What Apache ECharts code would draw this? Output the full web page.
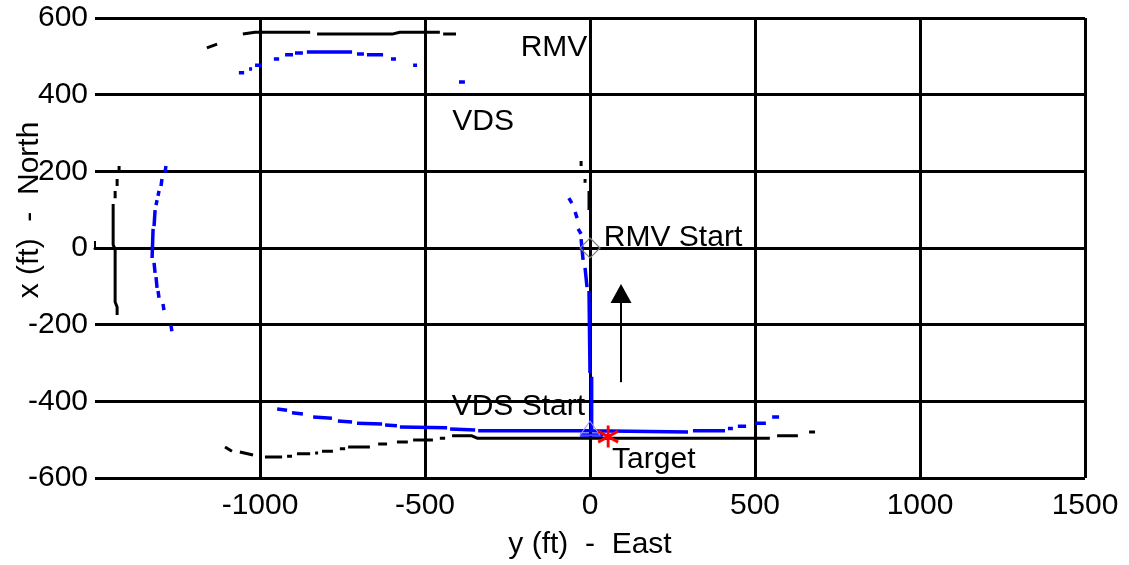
<!DOCTYPE html>
<html>
<head>
<meta charset="utf-8">
<script src="https://cdn.jsdelivr.net/npm/echarts@6/dist/echarts.min.js"></script>
<style>html,body{margin:0;padding:0;background:#fff;}#chart{width:1129px;height:565px;}</style>
</head>
<body>
<div id="chart"></div>
<script>
// ---- Data (feet): [y East, x North] pairs, each inner array is one visible trace piece ----
const xTicks = [-1500, -1000, -500, 0, 500, 1000, 1500];
const yTicks = [-600, -400, -200, 0, 200, 400, 600];

// RMV trajectory (black)
const rmvNorth = [
  [[-27, 227], [-27, 214]],
  [[-15, 180], [-15, 170]],
  [[-3, 149], [-3, 99]]
];
const rmvTop = [
  [[-1161, 522], [-1130, 532]],
  [[-1052, 558], [-1015, 563], [-848, 563]],
  [[-827, 558], [-600, 558], [-576, 563], [-455, 563]],
  [[-445, 558], [-406, 558]]
];
const rmvLeft = [
  [[-1427, 214], [-1427, 201]],
  [[-1433, 180], [-1433, 162]],
  [[-1439, 149], [-1439, 130]],
  [[-1445, 115], [-1445, 8], [-1439, -3], [-1439, -141], [-1433, -154], [-1433, -175]]
];
const rmvBottom = [
  [[-1106, -519], [-1085, -530]],
  [[-1061, -532], [-1021, -540]],
  [[-985, -545], [-933, -545]],
  [[-918, -543], [-903, -543]],
  [[-888, -537], [-848, -537]],
  [[-833, -535], [-824, -535]],
  [[-812, -530], [-779, -530]],
  [[-758, -524], [-742, -524]],
  [[-733, -519], [-667, -519]],
  [[-642, -511], [-615, -511]],
  [[-585, -506], [-552, -506]],
  [[-536, -501], [-476, -501]],
  [[-455, -496], [-439, -496]],
  [[-418, -490], [-358, -490], [-342, -496], [545, -496]],
  [[567, -490], [630, -490]],
  [[664, -480], [682, -480]]
];

// VDS trajectory (blue)
const vdsNorth = [
  [[-64, 130], [-55, 117]],
  [[-45, 94], [-39, 78]],
  [[-36, 50], [-27, 37]],
  [[-27, 23], [-21, -31]],
  [[-15, -52], [-9, -102]],
  [[-3, -112], [0, -326]],
  [[5, -336], [5, -477]]
];
const vdsTop = [
  [[-1064, 457], [-1048, 457]],
  [[-1033, 467], [-1024, 467]],
  [[-1015, 477], [-994, 477]],
  [[-958, 493], [-942, 493]],
  [[-924, 504], [-900, 504]],
  [[-894, 509], [-870, 509]],
  [[-858, 511], [-721, 511]],
  [[-706, 506], [-685, 506]],
  [[-676, 504], [-627, 504]],
  [[-603, 493], [-588, 493]],
  [[-536, 477], [-524, 477]],
  [[-397, 433], [-379, 433]]
];
const vdsLeft = [
  [[-1285, 214], [-1288, 196]],
  [[-1297, 180], [-1300, 162]],
  [[-1306, 149], [-1309, 136]],
  [[-1312, 125], [-1315, 112]],
  [[-1318, 99], [-1321, 57]],
  [[-1324, 50], [-1327, -26]],
  [[-1321, -39], [-1318, -65]],
  [[-1315, -76], [-1312, -104]],
  [[-1309, -112], [-1306, -130]],
  [[-1294, -146], [-1291, -162]],
  [[-1270, -201], [-1267, -217]]
];
const vdsBottom = [
  [[-948, -420], [-918, -423]],
  [[-903, -430], [-870, -433]],
  [[-839, -441], [-782, -444]],
  [[-764, -451], [-721, -454]],
  [[-706, -457], [-630, -459]],
  [[-621, -462], [-585, -464]],
  [[-576, -467], [-433, -469]],
  [[-424, -472], [-348, -475]],
  [[-339, -477], [0, -477], [297, -480]],
  [[312, -477], [409, -477]],
  [[418, -471], [433, -471]],
  [[448, -465], [473, -465]],
  [[500, -457], [533, -457]],
  [[552, -441], [573, -441]],
  [[-30, -488], [40, -488]]
];

// Markers
const rmvStart = [0, 0];
const vdsStart = [0, -470];
const target = [55, -492];
const arrowX = [94, 94];
const arrowY = [-350, -119];

// Annotations
const noteText = ['RMV', 'VDS', 'RMV Start', 'VDS Start', 'Target'];
const noteX = [-109, -324, 42, -15, 67];
const noteY = [522, 329, 26, -415, -553];
const notePos = ['inside', 'inside', 'right', 'left', 'right'];

// ---- Build ----
function joinPieces(groups) {
  const out = [];
  groups.forEach(function (g) {
    g.forEach(function (piece) {
      if (out.length) out.push(['-', '-']);
      piece.forEach(function (p) { out.push(p); });
    });
  });
  return out;
}

const FONT = 'Liberation Sans, Arial, sans-serif';
const chart = echarts.init(document.getElementById('chart'));

const option = {
  animation: false,
  backgroundColor: '#ffffff',
  grid: { left: 95, right: 44, top: 18, bottom: 87, containLabel: false, outerBoundsMode: 'none' },
  xAxis: {
    type: 'value',
    min: xTicks[0], max: xTicks[xTicks.length - 1], interval: 500,
    name: 'y (ft)  -  East',
    nameLocation: 'middle',
    nameGap: 52,
    nameMoveOverlap: false,
    nameTextStyle: { color: '#000', fontFamily: FONT, fontSize: 30 },
    axisLine: { show: true, lineStyle: { color: '#000', width: 3 } },
    axisTick: { show: true, inside: true, length: 7, lineStyle: { color: '#000', width: 2 } },
    axisLabel: {
      color: '#000', fontFamily: FONT, fontSize: 30, margin: 13,
      formatter: function (v) { return v === xTicks[0] ? '' : String(v); }
    },
    splitLine: { show: true, showMinLine: false, lineStyle: { color: '#000', width: 3 } }
  },
  yAxis: {
    type: 'value',
    min: yTicks[0], max: yTicks[yTicks.length - 1], interval: 200,
    name: 'x (ft)  -  North',
    nameLocation: 'middle',
    nameGap: 50,
    nameMoveOverlap: false,
    nameTextStyle: { color: '#000', fontFamily: FONT, fontSize: 30, padding: [0, 0, 0, 76] },
    axisLine: { show: false },
    axisTick: { show: false },
    axisLabel: { color: '#000', fontFamily: FONT, fontSize: 30, margin: 7 },
    splitLine: { show: true, lineStyle: { color: '#000', width: 3 } }
  },
  series: [
    {
      type: 'line', name: 'RMV', data: joinPieces([rmvNorth, rmvTop, rmvLeft, rmvBottom]),
      symbol: 'none', connectNulls: false,
      lineStyle: { color: '#000000', width: 3 }, z: 3
    },
    {
      type: 'line', name: 'VDS', data: joinPieces([vdsNorth, vdsTop, vdsLeft, vdsBottom]),
      symbol: 'none', connectNulls: false,
      lineStyle: { color: '#0000ff', width: 3.5 }, z: 4
    },
    {
      type: 'line', name: 'Arrow',
      data: arrowX.map(function (x, i) { return [x, arrowY[i]]; }),
      symbol: function (v, p) { return p.dataIndex === 1 ? 'triangle' : 'none'; },
      symbolSize: [21, 19],
      itemStyle: { color: '#000' },
      lineStyle: { color: '#000', width: 2 }, z: 5
    },
    {
      type: 'scatter', name: 'RMV Start', data: [rmvStart],
      symbol: 'diamond', symbolSize: [20, 20],
      itemStyle: { color: 'rgba(255,255,255,0)', borderColor: '#808080', borderWidth: 1.2, opacity: 1 }, z: 6
    },
    {
      type: 'scatter', name: 'VDS Start', data: [vdsStart],
      symbol: 'triangle', symbolSize: [20, 14],
      itemStyle: { color: 'rgba(255,255,255,0)', borderColor: '#9a9aff', borderWidth: 1, opacity: 1 }, z: 6
    },
    {
      type: 'scatter', name: 'Target', data: [target],
      symbol: 'path://M0,-10L0,10M-8.66,-5L8.66,5M-8.66,5L8.66,-5',
      symbolSize: [20, 22],
      itemStyle: { color: 'rgba(0,0,0,0)', borderColor: '#ff0000', borderWidth: 3, opacity: 1 }, z: 7
    },
    {
      type: 'scatter', name: 'notes',
      data: noteText.map(function (t, i) {
        return { value: [noteX[i], noteY[i]], name: t, label: { position: notePos[i] } };
      }),
      symbol: 'circle', symbolSize: 0,
      itemStyle: { opacity: 1 },
      label: {
        show: true, distance: 0, color: '#000', opacity: 1, fontFamily: FONT, fontSize: 30,
        textBorderWidth: 0,
        formatter: function (p) { return p.name; }
      },
      z: 8, silent: true
    }
  ]
};
chart.setOption(option);
</script>
</body>
</html>
